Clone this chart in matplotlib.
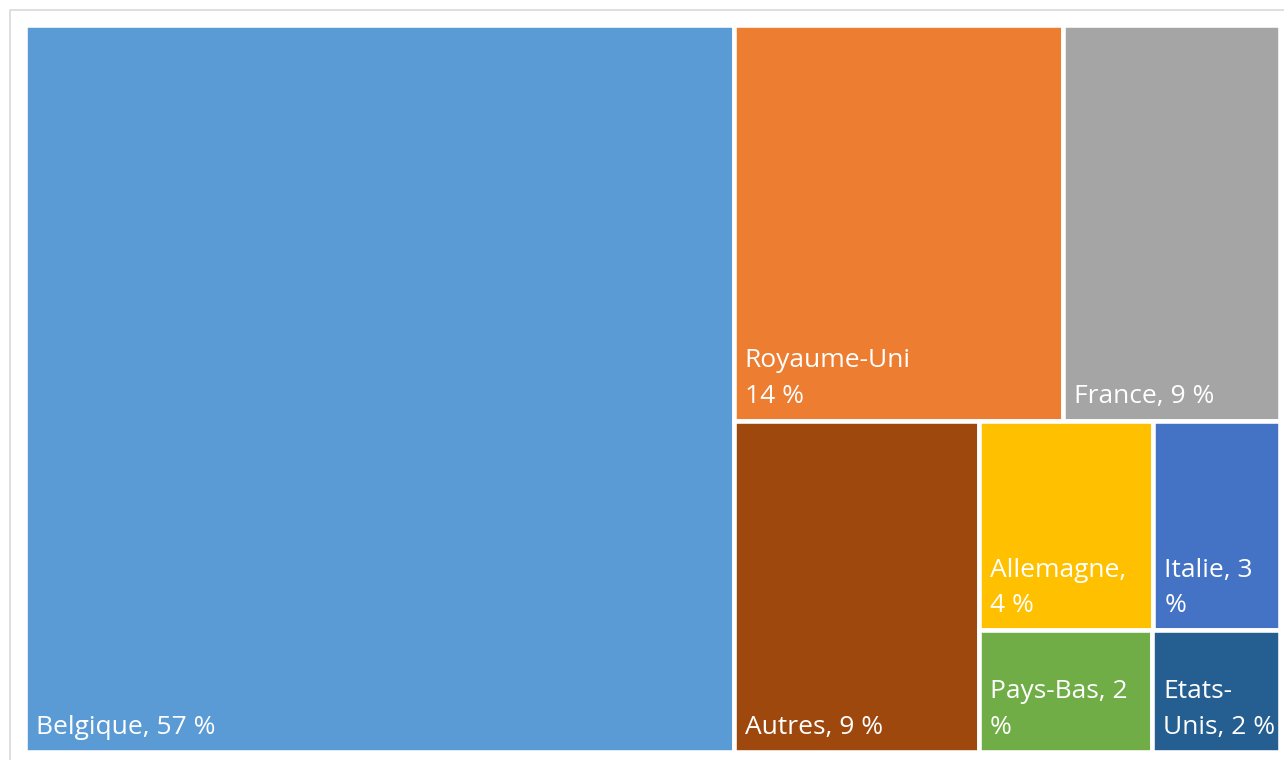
import matplotlib
matplotlib.use("Agg")
import matplotlib.pyplot as plt
from matplotlib.patches import Rectangle
from matplotlib.lines import Line2D

# part of each country (%)
countries = ["Belgique", "Royaume-Uni", "France", "Autres",
             "Allemagne", "Italie", "Pays-Bas", "Etats-Unis"]
shares = [56.5, 14.3, 9.4, 8.9, 4.0, 2.9, 2.3, 1.7]
labels = ["Belgique, 57 %", "Royaume-Uni\n14 %", "France, 9 %", "Autres, 9 %",
          "Allemagne,\n4 %", "Italie, 3\n%", "Pays-Bas, 2\n%", "Etats-\nUnis, 2 %"]
colors = ["#5B9BD5", "#ED7D31", "#A5A5A5", "#9E480E",
          "#FFC000", "#4472C4", "#70AD47", "#255E91"]


def worst(row, side):
    s = sum(row)
    return max(max(side ** 2 * v / s ** 2, s ** 2 / (side ** 2 * v)) for v in row)


def squarify(values, x, y, w, h):
    # squarified treemap, rows laid along the shorter side
    tot = float(sum(values))
    vals = [v * w * h / tot for v in values]
    rects = []
    while vals:
        side = min(w, h)
        row = [vals[0]]
        i = 1
        while i < len(vals) and worst(row + [vals[i]], side) <= worst(row, side):
            row.append(vals[i])
            i += 1
        s = sum(row)
        if w >= h:
            t = s / h
            yy = y
            for v in row:
                rects.append((x, yy, t, v / t))
                yy += v / t
            x += t
            w -= t
        else:
            t = s / w
            xx = x
            for v in row:
                rects.append((xx, y, v / t, t))
                xx += v / t
            y += t
            h -= t
        vals = vals[i:]
    return rects


W, H = 1255.0, 727.0
fig = plt.figure(figsize=(12.84, 7.6), dpi=100)
ax = fig.add_axes([24.5 / 1284, (760 - 751.5) / 760, W / 1284, H / 760])
ax.set_xlim(0, W)
ax.set_ylim(H, 0)
ax.axis("off")

for (x, y, w, h), lab, c in zip(squarify(shares, 0, 0, W, H), labels, colors):
    ax.add_patch(Rectangle((x, y), w, h, facecolor=c, edgecolor="white",
                           linewidth=3.3))
    ax.annotate(lab, xy=(x, y + h), xytext=(8, 8.5), textcoords="offset points",
                ha="left", va="bottom", color="white", fontsize=19,
                family="Open Sans", linespacing=1.55)

# light frame around the chart area
fig.add_artist(Line2D([10 / 1284, 10 / 1284, 1.0], [0.0, 1 - 10 / 760, 1 - 10 / 760],
                      transform=fig.transFigure, color="#d9d9d9", linewidth=1.2))

fig.savefig("out.png", dpi=100)
